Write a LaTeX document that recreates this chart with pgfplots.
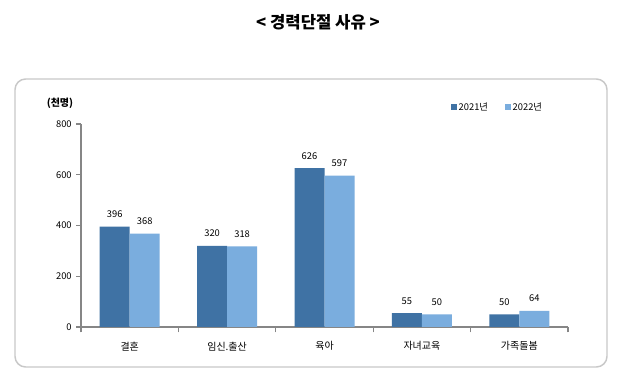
\documentclass[border=0pt]{standalone}
\usepackage{fontspec}
\setmainfont{Noto Sans CJK KR}
\usepackage{pgfplots}
\pgfplotsset{compat=1.18}
\definecolor{dk}{HTML}{3F72A4}
\definecolor{lt}{HTML}{7AADDE}
\definecolor{ax}{HTML}{868686}
\definecolor{bx}{HTML}{C8C8C8}
\begin{document}
\begin{tikzpicture}
\path[use as bounding box,fill=white] (0,0) rectangle (477.75pt,288.75pt);
\draw[bx,line width=1.1pt,rounded corners=8pt] (11.25pt,13.5pt) rectangle (455.25pt,229.5pt);
\node[font=\fontsize{12.5}{14}\selectfont\bfseries] at (238.5pt,272pt) {< 경력단절 사유 >};
\node[font=\fontsize{7.5}{9}\selectfont\bfseries] at (45pt,211.5pt) {(천명)};
\begin{axis}[
  at={(60.75pt,43.5pt)}, anchor=south west,
  scale only axis, width=365.25pt, height=152.25pt,
  ybar=0pt, bar width=22.5pt,
  xmin=-0.5, xmax=4.5, ymin=0, ymax=800,
  ytick={0,200,400,600,800},
  xtick={0,1,2,3,4},
  xticklabels={결혼,임신.출산,육아,자녀교육,가족돌봄},
  minor xtick={-0.5,0.5,1.5,2.5,3.5,4.5},
  major x tick style={draw=none},
  minor tick length=4pt, major tick length=3.5pt,
  tick align=outside,
  axis lines*=left,
  axis line style={ax,line width=0.8pt},
  tick style={ax,line width=0.8pt},
  every tick label/.append style={font=\fontsize{7}{8}\selectfont},
  xticklabel style={font=\fontsize{7.5}{9}\selectfont, yshift=-4pt},
  /pgf/number format/assume math mode=true,
  nodes near coords,
  every node near coord/.append style={font=\fontsize{7}{8}\selectfont, yshift=3pt},
  legend columns=2,
  legend style={at={(0.855,1.079)}, anchor=center, draw=none, fill=none,
    font=\fontsize{7}{8}\selectfont, column sep=0pt,
    nodes={inner xsep=1pt},
    /tikz/every even column/.append style={column sep=12pt}},
  legend image code/.code={\fill[#1] (0pt,-1.8pt) rectangle (4.5pt,2.7pt);},
  clip=false,
]
\addplot[fill=dk, draw=none] coordinates {(0,396) (1,320) (2,626) (3,55) (4,50)};
\addplot[fill=lt, draw=none] coordinates {(0,368) (1,318) (2,597) (3,50) (4,64)};
\legend{2021년,2022년}
\end{axis}
\end{tikzpicture}
\end{document}
